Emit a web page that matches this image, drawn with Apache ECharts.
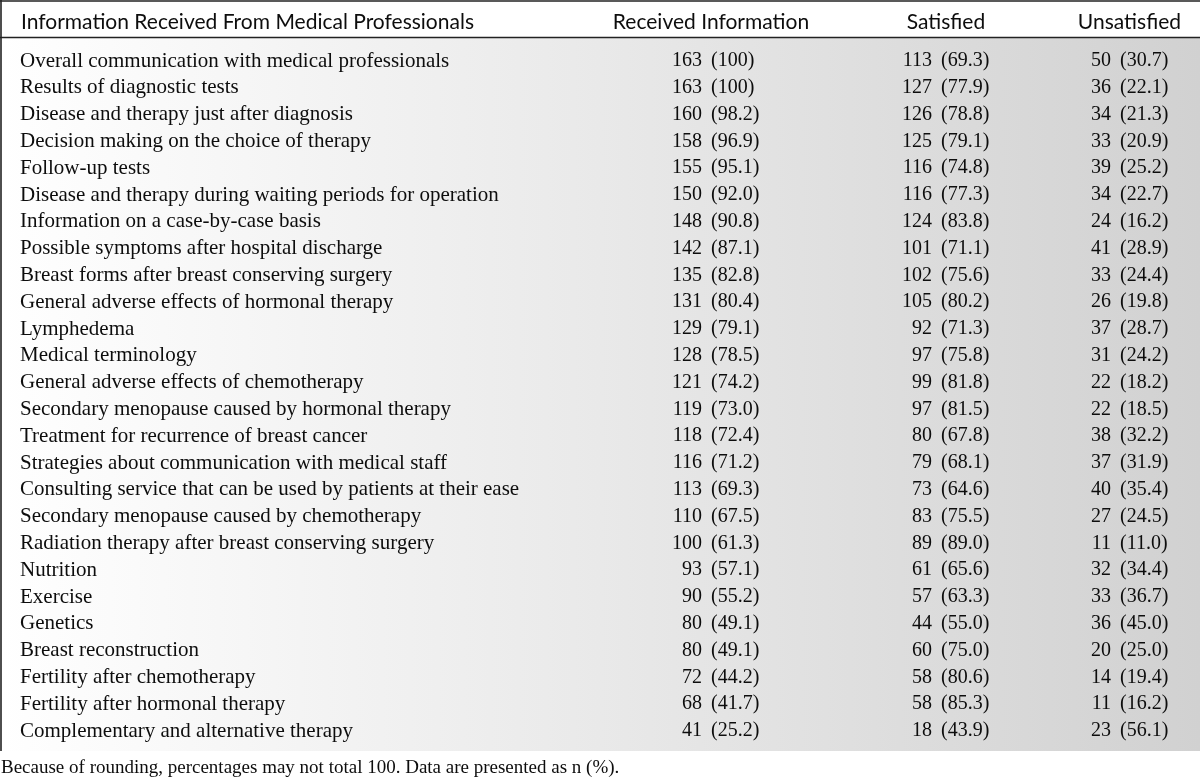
<!DOCTYPE html>
<html>
<head>
<meta charset="utf-8">
<script src="https://cdn.jsdelivr.net/npm/echarts@6/dist/echarts.min.js"></script>
<style>
html,body{margin:0;padding:0;background:#fff;}
#chart{width:1200px;height:782px;}
</style>
</head>
<body>
<div id="chart"></div>
<script>
// ---------- DATA ----------
const headers = ['Information Received From Medical Professionals', 'Received Information', 'Satisfied', 'Unsatisfied'];
const topics = [
  'Overall communication with medical professionals',
  'Results of diagnostic tests',
  'Disease and therapy just after diagnosis',
  'Decision making on the choice of therapy',
  'Follow-up tests',
  'Disease and therapy during waiting periods for operation',
  'Information on a case-by-case basis',
  'Possible symptoms after hospital discharge',
  'Breast forms after breast conserving surgery',
  'General adverse effects of hormonal therapy',
  'Lymphedema',
  'Medical terminology',
  'General adverse effects of chemotherapy',
  'Secondary menopause caused by hormonal therapy',
  'Treatment for recurrence of breast cancer',
  'Strategies about communication with medical staff',
  'Consulting service that can be used by patients at their ease',
  'Secondary menopause caused by chemotherapy',
  'Radiation therapy after breast conserving surgery',
  'Nutrition',
  'Exercise',
  'Genetics',
  'Breast reconstruction',
  'Fertility after chemotherapy',
  'Fertility after hormonal therapy',
  'Complementary and alternative therapy'
];
const receivedN   = [163,163,160,158,155,150,148,142,135,131,129,128,121,119,118,116,113,110,100,93,90,80,80,72,68,41];
const receivedPct = [100,100,98.2,96.9,95.1,92.0,90.8,87.1,82.8,80.4,79.1,78.5,74.2,73.0,72.4,71.2,69.3,67.5,61.3,57.1,55.2,49.1,49.1,44.2,41.7,25.2];
const satisfiedN   = [113,127,126,125,116,116,124,101,102,105,92,97,99,97,80,79,73,83,89,61,57,44,60,58,58,18];
const satisfiedPct = [69.3,77.9,78.8,79.1,74.8,77.3,83.8,71.1,75.6,80.2,71.3,75.8,81.8,81.5,67.8,68.1,64.6,75.5,89.0,65.6,63.3,55.0,75.0,80.6,85.3,43.9];
const unsatisfiedN   = [50,36,34,33,39,34,24,41,33,26,37,31,22,22,38,37,40,27,11,32,33,36,20,14,11,23];
const unsatisfiedPct = [30.7,22.1,21.3,20.9,25.2,22.7,16.2,28.9,24.4,19.8,28.7,24.2,18.2,18.5,32.2,31.9,35.4,24.5,11.0,34.4,36.7,45.0,25.0,19.4,16.2,56.1];
const footnote = 'Because of rounding, percentages may not total 100. Data are presented as n (%).';

// ---------- LAYOUT / STYLE ----------
const TOPIC_FONT = '21px "Liberation Serif", "DejaVu Serif", serif';
const NUM_FONT = '20px "Liberation Serif", "DejaVu Serif", serif';
const SANS = '21px Lato, "Noto Sans", sans-serif';
const INK = '#0d0d0d';
const COL_LABEL = 20;               // left edge of topic text (x axis units = px)
const NUM_RIGHT = [702, 932, 1111]; // right edge of n
const PCT_GAP = 9;
const ROW_H = 26.8, FIRST_ROW = 61;
const fmtPct = v => '(' + (v === 100 ? '100' : v.toFixed(1)) + ')';

const cols = [[receivedN, receivedPct], [satisfiedN, satisfiedPct], [unsatisfiedN, unsatisfiedPct]];
const gridTop = FIRST_ROW - ROW_H / 2;

const chart = echarts.init(document.getElementById('chart'), null, {renderer: 'canvas'});
chart.setOption({
  animation: false,
  backgroundColor: '#ffffff',
  grid: {left: 0, right: 0, top: gridTop, bottom: 782 - gridTop - ROW_H * topics.length, containLabel: false},
  xAxis: {type: 'value', min: 0, max: 1200, show: false},
  yAxis: {type: 'category', data: topics, inverse: true, show: false},
  graphic: [
    {type: 'rect', shape: {x: 0, y: 38, width: 1200, height: 713}, z: -10, silent: true,
     style: {fill: new echarts.graphic.LinearGradient(0, 0, 1, 0, [
       {offset: 0, color: '#ffffff'}, {offset: 0.5, color: '#e9e9e9'}, {offset: 1, color: '#d1d1d1'}])}},
    {type: 'line', shape: {x1: 0, y1: 1, x2: 1200, y2: 1}, style: {stroke: '#222', lineWidth: 1.6}},
    {type: 'line', shape: {x1: 0, y1: 37.5, x2: 1200, y2: 37.5}, style: {stroke: '#222', lineWidth: 1.6}},
    {type: 'line', shape: {x1: 1, y1: 0, x2: 1, y2: 751}, style: {stroke: '#222', lineWidth: 1.6}},
    {type: 'text', x: 21, y: 22.5, style: {text: headers[0], font: SANS, fill: INK, align: 'left', verticalAlign: 'middle'}},
    {type: 'text', x: 711, y: 22.5, style: {text: headers[1], font: SANS, fill: INK, align: 'center', verticalAlign: 'middle'}},
    {type: 'text', x: 946, y: 22.5, style: {text: headers[2], font: SANS, fill: INK, align: 'center', verticalAlign: 'middle'}},
    {type: 'text', x: 1181, y: 22.5, style: {text: headers[3], font: SANS, fill: INK, align: 'right', verticalAlign: 'middle'}},
    {type: 'text', x: 1, y: 768, style: {text: footnote, font: '19px "Liberation Serif", serif', fill: INK, align: 'left', verticalAlign: 'middle'}}
  ],
  series: [{
    type: 'custom',
    coordinateSystem: 'cartesian2d',
    encode: {x: 0, y: 1},
    data: topics.map((t, i) => [0, i]),
    renderItem: function (params, api) {
      const i = api.value(1);
      const children = [];
      const p = api.coord([COL_LABEL, i]);
      children.push({type: 'text', x: p[0], y: p[1],
        style: {text: topics[i], font: TOPIC_FONT, fill: INK, align: 'left', verticalAlign: 'middle'}});
      cols.forEach((c, k) => {
        const q = api.coord([NUM_RIGHT[k], i]);
        children.push({type: 'text', x: q[0], y: q[1],
          style: {text: String(c[0][i]), font: NUM_FONT, fill: INK, align: 'right', verticalAlign: 'middle'}});
        children.push({type: 'text', x: q[0] + PCT_GAP, y: q[1],
          style: {text: fmtPct(c[1][i]), font: NUM_FONT, fill: INK, align: 'left', verticalAlign: 'middle'}});
      });
      return {type: 'group', children: children};
    }
  }]
});
</script>
</body>
</html>
